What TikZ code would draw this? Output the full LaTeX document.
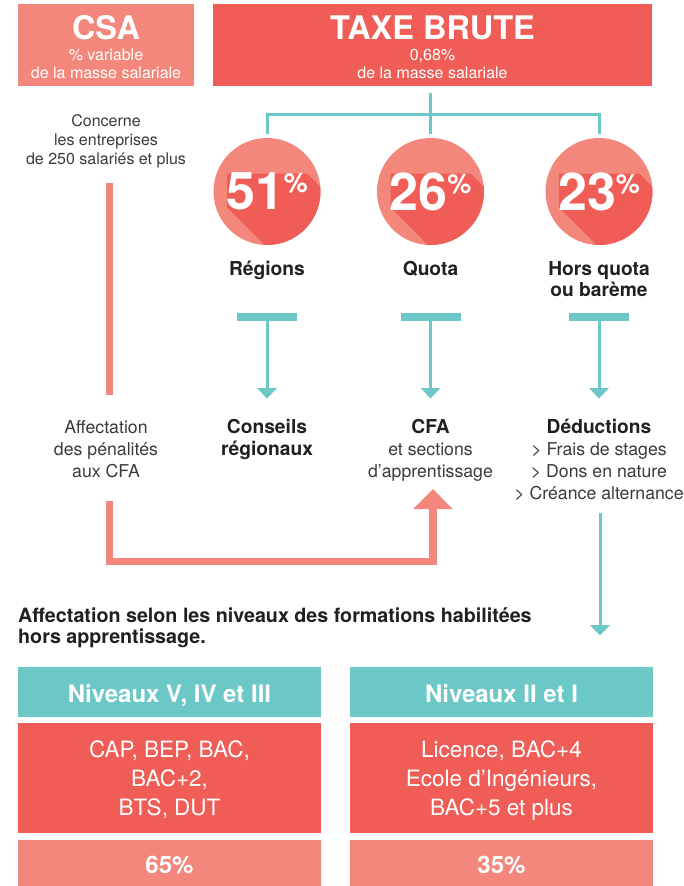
\documentclass[tikz,border=0pt]{standalone}
\usepackage{fontspec}
\setmainfont{TeX Gyre Heros}
\usepackage{tikz}

\definecolor{saumon}{HTML}{F4877B}
\definecolor{rouge}{HTML}{F05C56}
\definecolor{turquoise}{HTML}{6CC8C6}
\definecolor{sombre}{HTML}{231F20}
\definecolor{gris}{HTML}{3A3A3A}

\begin{document}
\begin{tikzpicture}[x=1pt,y=-1pt,
    boite/.style={fill=#1, anchor=north west, minimum height=0pt},
    titre/.style={text=white, font=\fontsize{32.5}{32.5}\selectfont\bfseries},
    sous/.style={text=white, font=\fontsize{16}{16}\selectfont},
    gras/.style={text=sombre, font=\fontsize{19.2}{19.2}\selectfont\bfseries},
    maigre/.style={text=gris, font=\fontsize{17.7}{17.7}\selectfont},
    petit/.style={text=gris, font=\fontsize{16}{16}\selectfont},
    chiffre/.style={text=white, anchor=center, font=\fontsize{52}{52}\selectfont\bfseries},
    entete/.style={text=white, font=\fontsize{24}{24}\selectfont\bfseries},
    liste/.style={text=white, font=\fontsize{22.5}{22.5}\selectfont},
    fleche/.style={turquoise, line width=3pt},
    bande/.style={saumon, line width=7.7pt}]
    \tikzstyle{every node}+=[inner sep=0pt, anchor=base]
    \useasboundingbox (0,0) rectangle (683,886);

    \node [boite=saumon, minimum width=176pt, minimum height=82pt] (csa) at (18,4) {};
    \node [titre] (csa1) at (106,39) {CSA};
    \node [sous] (csa2) at (106,60) {\% variable};
    \node [sous] (csa3) at (106,78) {de la masse salariale};
    \node [boite=rouge, minimum width=439pt, minimum height=82pt] (taxe) at (213,4) {};
    \node [titre] (taxe1) at (432.5,39) {TAXE BRUTE};
    \node [sous] (taxe2) at (432.5,60) {0,68\%};
    \node [sous] (taxe3) at (432.5,78) {de la masse salariale};

    \coordinate (h) at (430.5,93);
    \coordinate (barre) at (430.5,114.3);
    \coordinate (g) at (267,134);
    \coordinate (m) at (430.5,134);
    \coordinate (d) at (599,134);
    \draw [fleche] (h) -- (m);
    \draw [fleche] (g) |- (barre) -| (d);

    \node [circle, fill=saumon, minimum size=107pt, anchor=center] (rond1) at (267,191.5) {};
    \begin{scope}
    \clip (rond1.center) circle (53.5pt);
    \fill [rouge] (rond1.center) ++(-40,-18) -- ++(80,0) -- ++(100,100) -- ++(-80,34) -- ++(-100,-100) -- cycle;
    \end{scope}
    \node [chiffre] (p1) at (rond1) {51\raisebox{17pt}{\fontsize{27}{27}\selectfont\%}};
    \node [circle, fill=saumon, minimum size=107pt, anchor=center] (rond2) at (430.5,191.5) {};
    \begin{scope}
    \clip (rond2.center) circle (53.5pt);
    \fill [rouge] (rond2.center) ++(-40,-18) -- ++(80,0) -- ++(100,100) -- ++(-80,34) -- ++(-100,-100) -- cycle;
    \end{scope}
    \node [chiffre] (p2) at (rond2) {26\raisebox{17pt}{\fontsize{27}{27}\selectfont\%}};
    \node [circle, fill=saumon, minimum size=107pt, anchor=center] (rond3) at (599,191.5) {};
    \begin{scope}
    \clip (rond3.center) circle (53.5pt);
    \fill [rouge] (rond3.center) ++(-40,-18) -- ++(80,0) -- ++(100,100) -- ++(-80,34) -- ++(-100,-100) -- cycle;
    \end{scope}
    \node [chiffre] (p3) at (rond3) {23\raisebox{17pt}{\fontsize{27}{27}\selectfont\%}};

    \node [gras] (regions) at (267,275.3) {Régions};
    \node [gras] (quota) at (430.5,275.3) {Quota};
    \node [gras] (hors1) at (599,275.3) {Hors quota};
    \node [gras] (hors2) at (599,296.7) {ou barème};

    \node [fill=turquoise, minimum width=60pt, minimum height=8pt, anchor=center] (t1) at (267,317) {};
    \coordinate (f1) at (267,389);
    \draw [fleche] (t1.south) -- (f1);
    \fill [turquoise] (f1) ++(-10,-1) -- ++(20,0) -- ++(-10,10.5) -- cycle;
    \node [fill=turquoise, minimum width=60pt, minimum height=8pt, anchor=center] (t2) at (430.5,317) {};
    \coordinate (f2) at (430.5,389);
    \draw [fleche] (t2.south) -- (f2);
    \fill [turquoise] (f2) ++(-10,-1) -- ++(20,0) -- ++(-10,10.5) -- cycle;
    \node [fill=turquoise, minimum width=60pt, minimum height=8pt, anchor=center] (t3) at (599,317) {};
    \coordinate (f3) at (599,389);
    \draw [fleche] (t3.south) -- (f3);
    \fill [turquoise] (f3) ++(-10,-1) -- ++(20,0) -- ++(-10,10.5) -- cycle;

    \node [gras] (conseils1) at (267,433) {Conseils};
    \node [gras] (conseils2) at (267,455) {régionaux};
    \node [gras] (cfa1) at (430.5,433) {CFA};
    \node [maigre] (cfa2) at (430.5,455) {et sections};
    \node [maigre] (cfa3) at (430.5,477) {d’apprentissage};
    \node [gras] (ded1) at (599,433) {Déductions};
    \node [maigre] (ded2) at (599,455) {> Frais de stages};
    \node [maigre] (ded3) at (599,477) {> Dons en nature};
    \node [maigre] (ded4) at (599,499.5) {> Créance alternance};

    \node [petit] (conc1) at (106,126.7) {Concerne};
    \node [petit] (conc2) at (106,145.7) {les entreprises};
    \node [petit] (conc3) at (106,164.3) {de 250 salariés et plus};
    \coordinate (s0) at (109.5,183);
    \coordinate (s1) at (109.5,395);
    \draw [bande] (s0) -- (s1);
    \node [maigre] (aff1) at (106,433) {Affectation};
    \node [maigre] (aff2) at (106,455) {des pénalités};
    \node [maigre] (aff3) at (106,477) {aux CFA};

    \coordinate (s2) at (109.5,501);
    \coordinate (coin) at (109.5,561.5);
    \coordinate (s3) at (433,508);
    \draw [bande] (s2) -- (coin) -| (s3);
    \fill [saumon] (s3) ++(-20,1) -- ++(39.5,0) -- ++(-19.5,-20) -- cycle;

    \coordinate (r1) at (600,512.7);
    \coordinate (r2) at (600,626);
    \draw [fleche] (r1) -- (r2);
    \fill [turquoise] (r2) ++(-10,-1) -- ++(20,0) -- ++(-10,10.5) -- cycle;

    \node [gras, anchor=base west, font=\fontsize{19.7}{19.7}\selectfont\bfseries] (sel1) at (18,622.7) {Affectation selon les niveaux des formations habilitées};
    \node [gras, anchor=base west, font=\fontsize{19.7}{19.7}\selectfont\bfseries] (sel2) at (18,643.5) {hors apprentissage.};

    \node [boite=turquoise, minimum width=303pt, minimum height=50pt] (niv1) at (18,667) {};
    \node [boite=turquoise, minimum width=303pt, minimum height=50pt] (niv2) at (350,667) {};
    \node [boite=rouge, minimum width=303pt, minimum height=110pt] (corps1) at (18,723) {};
    \node [boite=rouge, minimum width=303pt, minimum height=110pt] (corps2) at (350,723) {};
    \node [boite=saumon, minimum width=303pt, minimum height=46pt] (pied1) at (18,840) {};
    \node [boite=saumon, minimum width=303pt, minimum height=46pt] (pied2) at (350,840) {};

    \node [entete] (nivtxt1) at (169.5,702.5) {Niveaux V, IV et III};
    \node [entete] (nivtxt2) at (501.5,702.5) {Niveaux II et I};
    \node [liste] (l1) at (169.5,757.3) {CAP, BEP, BAC,};
    \node [liste] (l2) at (169.5,786.5) {BAC+2,};
    \node [liste] (l3) at (169.5,815.7) {BTS, DUT};
    \node [liste] (l4) at (501.5,757.3) {Licence, BAC+4};
    \node [liste] (l5) at (501.5,786.5) {Ecole d’Ingénieurs,};
    \node [liste] (l6) at (501.5,815.7) {BAC+5 et plus};
    \node [entete] (pc1) at (169.5,873) {65\%};
    \node [entete] (pc2) at (501.5,873) {35\%};
\end{tikzpicture}
\end{document}
